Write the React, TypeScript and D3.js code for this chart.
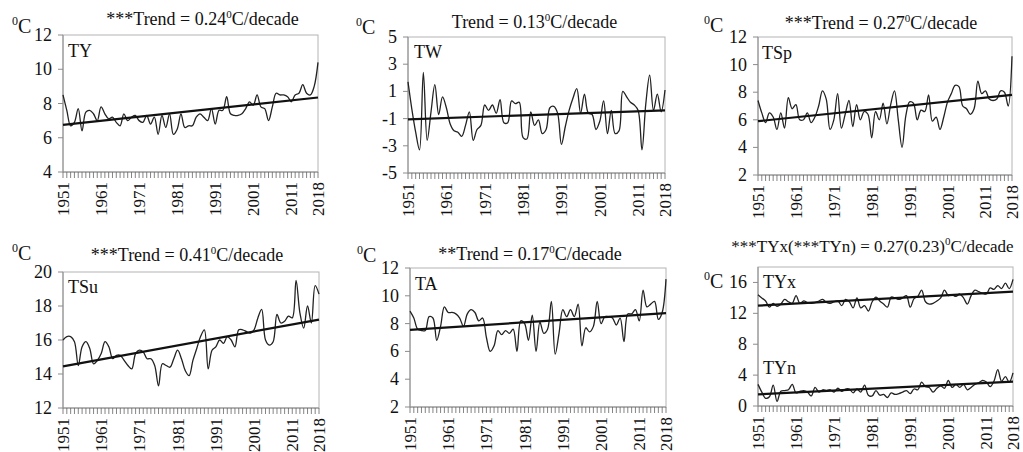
import * as d3 from "d3";

// yearly series, 1951-2018
const years = d3.range(1951, 2019);
const yearLabels = [1951, 1961, 1971, 1981, 1991, 2001, 2011, 2018];

const ty = [
  8.5, 7.6, 6.7, 6.9, 7.7, 6.4, 7.5, 7.6, 7.4, 7.0, 7.8, 7.4, 7.1, 7.2, 6.9, 6.7, 7.4, 7.0, 7.2, 7.3,
  7.0, 6.9, 7.3, 6.8, 7.2, 6.2, 7.3, 6.6, 7.4, 6.2, 6.5, 7.4, 6.6, 6.7, 6.7, 7.2, 7.4, 7.2, 7.0, 7.7,
  6.8, 7.6, 7.6, 8.4, 7.4, 7.3, 7.3, 7.4, 7.7, 8.1, 7.9, 8.5, 7.8, 7.7, 7.0, 7.8, 8.6, 8.5, 8.5, 8.4,
  8.1, 8.5, 8.6, 9.1, 8.6, 8.5, 9.0, 10.4,
];
const tw = [
  1.7, -0.3, -2.0, -3.3, 2.4, -2.6, -0.5, 1.5, -0.7, 0.6, -0.2, -1.4, -1.9, -2.0, -2.3, -1.5, -0.5, -2.6, -1.8, -1.5,
  0.0, -0.4, 0.0, -0.6, 0.4, -1.3, -1.3, 0.3, 0.1, 0.2, -2.4, -2.5, -0.5, -1.5, -1.1, -2.1, -1.8, -0.2, -0.1, -0.6,
  -2.9, -1.6, -0.4, 0.5, 1.2, -0.6, 0.8, -0.6, -0.7, -1.8, -1.2, 0.3, -2.1, -0.4, -2.1, -1.9, 1.0, 0.6, 0.2, 0.0,
  -0.4, -3.3, 0.1, 2.2, -0.4, 0.8, -0.5, 1.1,
];
const tsp = [
  7.4, 6.5, 5.8, 6.5, 6.2, 5.3, 6.5, 5.4, 7.6, 6.8, 7.1, 6.0, 6.0, 6.5, 5.8, 6.2, 7.0, 8.1, 7.5, 5.3,
  6.0, 7.9, 5.4, 6.4, 7.4, 5.5, 7.1, 6.0, 6.6, 6.4, 4.7, 6.6, 6.0, 7.2, 5.7, 7.1, 8.1, 6.0, 4.0, 6.3,
  7.3, 7.2, 6.0, 6.7, 6.6, 7.8, 5.9, 6.2, 5.3, 6.2, 7.3, 7.9, 8.5, 8.4, 7.0, 6.8, 6.4, 6.8, 8.8, 7.9,
  8.1, 7.5, 7.4, 7.5, 8.1, 8.0, 7.0, 10.6,
];
const tsu = [
  16.0, 16.2, 16.2, 15.9, 14.5, 15.6, 15.9, 15.5, 14.6, 14.8, 15.2, 15.9, 15.6, 14.9, 15.1, 15.1, 14.8, 14.5, 14.3, 15.2,
  15.4, 15.3, 14.9, 14.9, 14.5, 13.3, 14.6, 14.5, 14.4, 14.9, 15.4, 14.9, 14.2, 13.9, 14.8, 15.5, 16.2, 16.6, 14.3, 15.4,
  15.6, 16.0, 15.8, 16.2, 16.0, 15.6, 16.6, 16.6, 16.5, 16.4, 16.6, 17.3, 17.8, 16.0, 15.7, 15.9, 17.5, 17.0, 17.1, 17.4,
  17.3, 19.5, 17.6, 16.7, 18.0, 17.0, 19.2, 18.7,
];
const ta = [
  8.9, 8.4, 7.6, 7.5, 7.5, 8.5, 8.4, 6.8, 7.8, 9.2, 8.8, 8.8, 8.7, 8.4, 7.8, 8.7, 9.0, 8.8, 8.2, 8.4,
  7.0, 6.0, 6.4, 7.5, 7.2, 7.5, 7.3, 7.6, 6.0, 8.2, 8.0, 6.8, 8.6, 6.0, 8.1, 7.3, 7.6, 9.6, 5.8, 7.3,
  9.0, 8.5, 9.0, 8.5, 9.4, 6.4, 7.7, 7.4, 7.8, 9.6, 8.0, 8.5, 8.5, 8.4, 7.9, 8.4, 6.7, 8.7, 8.7, 9.0,
  8.2, 10.4, 9.2, 9.4, 9.6, 8.3, 8.8, 11.2,
];
const tyx = [
  14.4, 14.0, 13.6, 12.8, 13.3, 12.9, 13.2, 13.8, 13.5, 13.3, 14.3, 13.3, 13.6, 13.4, 13.3, 13.4, 13.6, 13.8, 13.4, 13.3,
  13.5, 13.6, 13.0, 13.8, 13.5, 12.7, 14.0, 12.7, 13.0, 12.3, 13.5, 14.1, 13.6, 13.2, 12.8, 14.1, 14.0, 13.8, 14.0, 14.3,
  12.8, 13.9, 14.2, 15.0, 13.5, 13.2, 13.3, 13.6, 14.0, 15.0, 14.3, 14.4, 14.2, 14.5, 14.0, 13.2, 14.3, 15.0, 14.8, 14.6,
  14.5, 15.3, 15.1, 15.6, 15.2, 15.9, 15.2, 16.4,
];
const tyn = [
  2.8, 1.8, 1.0, 1.2, 2.7, 0.6, 1.9, 2.0, 2.1, 2.8, 1.7, 1.9, 2.0, 1.8, 1.3, 2.4, 1.8, 2.1, 2.0, 2.1,
  1.8, 2.3, 1.9, 2.2, 2.2, 1.7, 2.2, 1.8, 2.7, 1.4, 1.3, 2.0, 1.4, 1.5, 1.1, 1.7, 1.5, 1.6, 1.8, 2.0,
  1.6, 2.2, 2.1, 3.1, 2.5, 2.4, 1.8, 2.3, 2.6, 2.3, 3.3, 2.4, 2.8, 2.4, 2.8, 2.1, 2.4, 2.8, 3.0, 3.3,
  3.1, 2.5, 3.2, 4.7, 3.2, 3.8, 3.1, 4.3,
];

// linear trend, value at 1951 and at 2018
const tyTrend = [6.75, 8.35];
const twTrend = [-1.05, -0.4];
const tspTrend = [5.9, 7.8];
const tsuTrend = [14.45, 17.2];
const taTrend = [7.55, 8.75];
const tyxTrend = [13.0, 14.8];
const tynTrend = [1.5, 3.15];

const FONT = "'Liberation Serif', 'Times New Roman', serif";

type Series = { name: string; values: number[]; trend: number[]; lx: number; ly: number };
type Panel = {
  x: number; y: number; w: number; h: number;
  domain: [number, number]; ticks: number[];
  title: string; titleDx: number; titleY: number; titleSize: number;
  cx: number; cy: number;
  series: Series[];
};

const panels: Panel[] = [
  { x: 63, y: 35, w: 255, h: 137, domain: [4, 12], ticks: [4, 6, 8, 10, 12],
    title: "***Trend = 0.24", titleDx: 12, titleY: 25, titleSize: 18, cx: 12, cy: 33,
    series: [{ name: "TY", values: ty, trend: tyTrend, lx: 5, ly: 22 }] },
  { x: 408, y: 37, w: 257, h: 136, domain: [-5, 5], ticks: [-5, -3, -1, 1, 3, 5],
    title: "Trend = 0.13", titleDx: -2, titleY: 28, titleSize: 18, cx: 356, cy: 34,
    series: [{ name: "TW", values: tw, trend: twTrend, lx: 6, ly: 21 }] },
  { x: 758, y: 37, w: 254, h: 138, domain: [2, 12], ticks: [2, 4, 6, 8, 10, 12],
    title: "***Trend = 0.27", titleDx: -4, titleY: 29, titleSize: 18, cx: 704, cy: 32,
    series: [{ name: "TSp", values: tsp, trend: tspTrend, lx: 4, ly: 22 }] },
  { x: 63, y: 272, w: 256, h: 136, domain: [12, 20], ticks: [12, 14, 16, 18, 20],
    title: "***Trend = 0.41", titleDx: -4, titleY: 261, titleSize: 18, cx: 12, cy: 260,
    series: [{ name: "TSu", values: tsu, trend: tsuTrend, lx: 5, ly: 21 }] },
  { x: 410, y: 268, w: 256, h: 139, domain: [2, 12], ticks: [2, 4, 6, 8, 10, 12],
    title: "**Trend = 0.17", titleDx: -8, titleY: 260, titleSize: 18, cx: 357, cy: 262,
    series: [{ name: "TA", values: ta, trend: taTrend, lx: 5, ly: 22 }] },
  { x: 758, y: 267, w: 255, h: 139, domain: [0, 18], ticks: [0, 4, 8, 12, 16],
    title: "***TYx(***TYn) = 0.27(0.23)", titleDx: -13, titleY: 252, titleSize: 17, cx: 704, cy: 288,
    series: [
      { name: "TYx", values: tyx, trend: tyxTrend, lx: 5, ly: 21 },
      { name: "TYn", values: tyn, trend: tynTrend, lx: 5, ly: 107 },
    ] },
];

const PanelView = ({ p }: { p: Panel }) => {
  const x = d3.scaleLinear().domain([1951, 2018]).range([p.x, p.x + p.w]);
  const y = d3.scaleLinear().domain(p.domain).range([p.y + p.h, p.y]);
  const line = d3.line<number>()
    .x((_, i) => x(years[i]))
    .y((d) => y(d))
    .curve(d3.curveCatmullRom.alpha(0.5));
  const bottom = p.y + p.h;
  const cx = p.x + p.w / 2 + p.titleDx;

  return (
    <g>
      {/* frame */}
      <rect x={p.x} y={p.y} width={p.w} height={p.h} fill="none" stroke="#b4b4b4" strokeWidth={1} />
      <line x1={p.x} x2={p.x} y1={p.y} y2={bottom} stroke="#8c8c8c" />
      <line x1={p.x} x2={p.x + p.w} y1={bottom} y2={bottom} stroke="#8c8c8c" />
      {years.map((yr) => (
        <line key={yr} x1={x(yr)} x2={x(yr)} y1={bottom} y2={bottom + 6} stroke="#666" strokeWidth={0.8} />
      ))}
      {yearLabels.map((yr) => (
        <text key={yr} transform={`translate(${x(yr) + 6},${bottom + 10}) rotate(-90)`}
          textAnchor="end" fontSize={17} fontFamily={FONT} fill="#111">{yr}</text>
      ))}
      {p.ticks.map((t) => (
        <g key={t}>
          <line x1={p.x - 5} x2={p.x} y1={y(t)} y2={y(t)} stroke="#8c8c8c" />
          <text x={p.x - 11} y={y(t) + 6} textAnchor="end" fontSize={18} fontFamily={FONT} fill="#111">{t}</text>
        </g>
      ))}
      {/* unit */}
      <text x={p.cx} y={p.cy} fontSize={20} fontFamily={FONT} fill="#111">
        <tspan fontSize={12} dy={-8}>0</tspan>
        <tspan dy={8}>C</tspan>
      </text>
      {/* title */}
      <text x={cx} y={p.titleY} textAnchor="middle" fontSize={p.titleSize} fontFamily={FONT} fill="#111">
        {p.title}<tspan fontSize={11} dy={-7}>0</tspan>
        <tspan dy={7}>C/decade</tspan>
      </text>
      {p.series.map((s) => (
        <g key={s.name}>
          <path d={line(s.values) ?? ""} fill="none" stroke="#222" strokeWidth={1.3} />
          <line x1={x(1951)} x2={x(2018)} y1={y(s.trend[0])} y2={y(s.trend[1])} stroke="#111" strokeWidth={2.2} />
          <text x={p.x + s.lx} y={p.y + s.ly} fontSize={18} fontFamily={FONT} fill="#111">{s.name}</text>
        </g>
      ))}
    </g>
  );
};

export default function App() {
  return (
    <svg width={1023} height={452} style={{ position: "absolute", left: 0, top: 0, background: "#fff" }}>
      <rect width={1023} height={452} fill="#fff" />
      {panels.map((p, i) => (
        <PanelView key={i} p={p} />
      ))}
    </svg>
  );
}
